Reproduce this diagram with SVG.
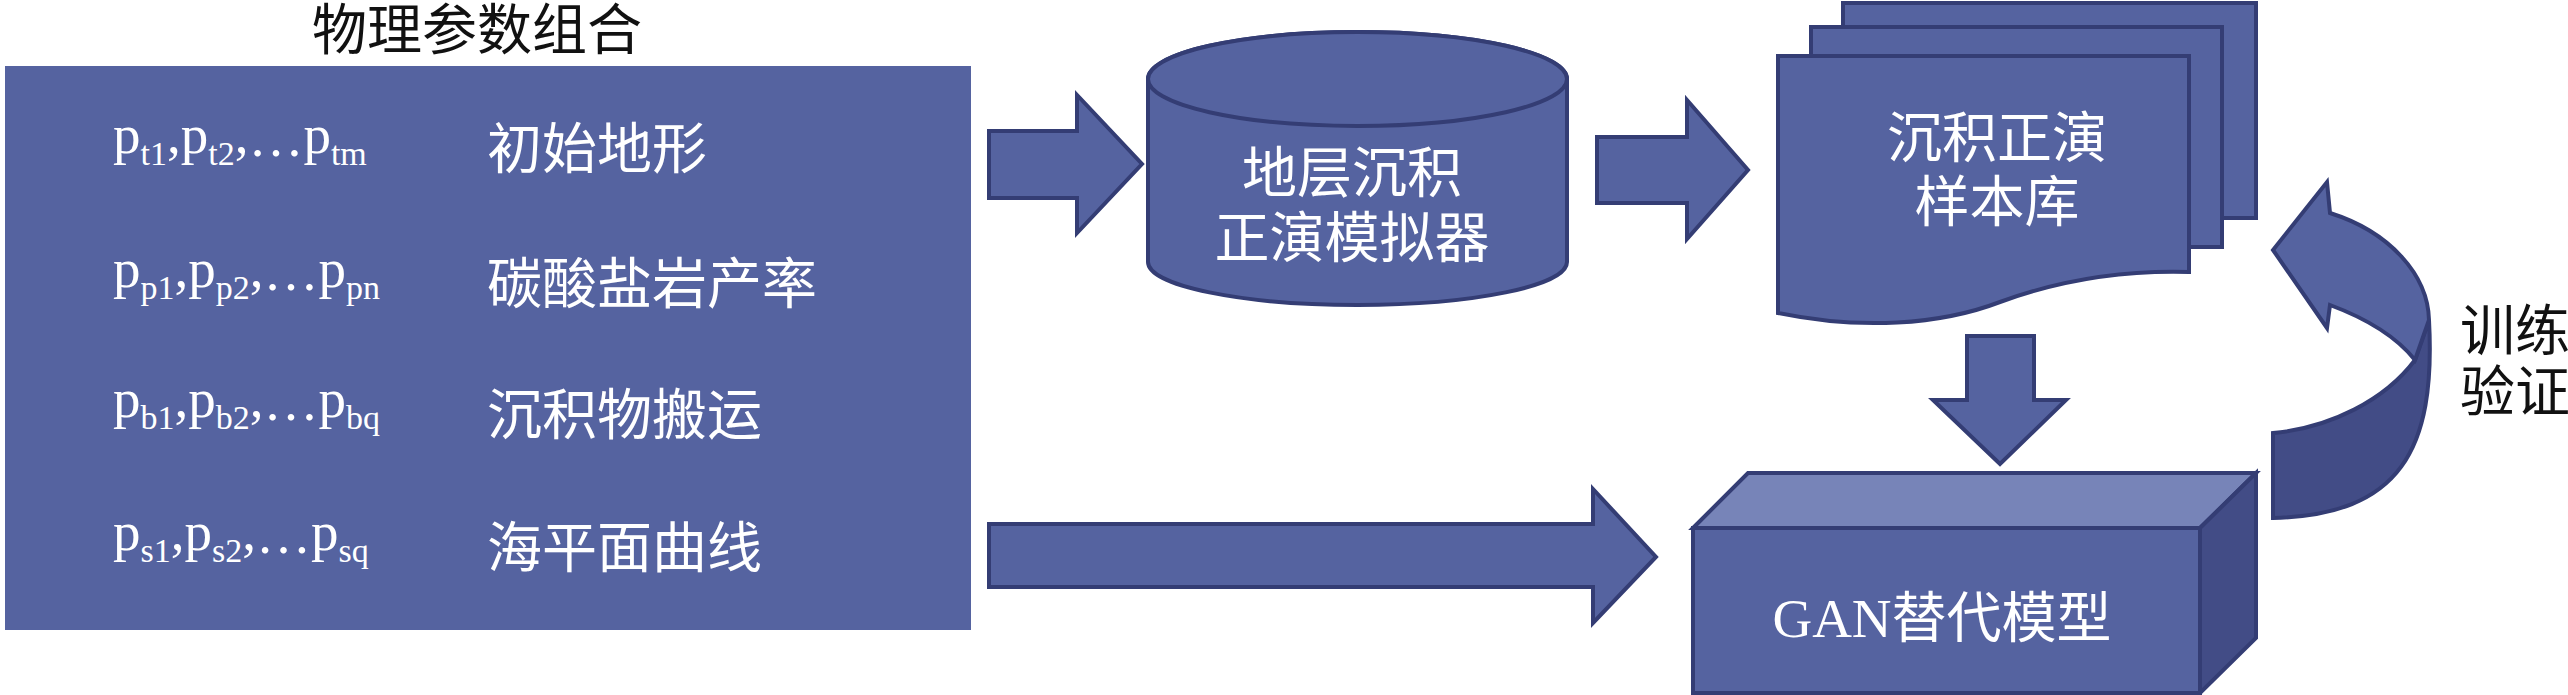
<svg xmlns="http://www.w3.org/2000/svg" width="2568" height="695" viewBox="0 0 2568 695">
  <style>
    .fill { fill: #5563a0; }
    .shape { fill: #5563a0; stroke: #343d74; stroke-width: 4; stroke-linejoin: miter; }
    .dark { fill: #424c86; stroke: #343d74; stroke-width: 4; stroke-linejoin: miter; }
    .light { fill: #7784b8; stroke: #343d74; stroke-width: 4; stroke-linejoin: miter; }
    .cjk { font-family: "Liberation Serif", "Noto Sans CJK SC", serif; font-size: 55px; }
    .wt { fill: #ffffff; }
    .bk { fill: #111111; }
    .pm { font-family: "Liberation Serif", serif; font-size: 55px; fill: #ffffff; }
    .sub { font-size: 34px; }
    .mid { text-anchor: middle; }
  </style>
  <rect width="2568" height="695" fill="#ffffff"/>

  <g id="params">
    <text class="cjk bk mid" x="477" y="49">物理参数组合</text>
    <rect class="fill" x="5" y="66" width="966" height="564"/>
    <text class="pm" x="113" y="153">p<tspan class="sub" dy="12">t1</tspan><tspan dy="-12">,p</tspan><tspan class="sub" dy="12">t2</tspan><tspan dy="-12">,</tspan><tspan dy="3">…</tspan><tspan dy="-3">p</tspan><tspan class="sub" dy="12">tm</tspan></text>
    <text class="pm" x="113" y="287">p<tspan class="sub" dy="12">p1</tspan><tspan dy="-12">,p</tspan><tspan class="sub" dy="12">p2</tspan><tspan dy="-12">,</tspan><tspan dy="3">…</tspan><tspan dy="-3">p</tspan><tspan class="sub" dy="12">pn</tspan></text>
    <text class="pm" x="113" y="417">p<tspan class="sub" dy="12">b1</tspan><tspan dy="-12">,p</tspan><tspan class="sub" dy="12">b2</tspan><tspan dy="-12">,</tspan><tspan dy="3">…</tspan><tspan dy="-3">p</tspan><tspan class="sub" dy="12">bq</tspan></text>
    <text class="pm" x="113" y="550">p<tspan class="sub" dy="12">s1</tspan><tspan dy="-12">,p</tspan><tspan class="sub" dy="12">s2</tspan><tspan dy="-12">,</tspan><tspan dy="3">…</tspan><tspan dy="-3">p</tspan><tspan class="sub" dy="12">sq</tspan></text>
    <text class="cjk wt" x="487" y="168">初始地形</text>
    <text class="cjk wt" x="487" y="303">碳酸盐岩产率</text>
    <text class="cjk wt" x="487" y="434">沉积物搬运</text>
    <text class="cjk wt" x="487" y="567">海平面曲线</text>
  </g>

  <g id="simulator">
    <path class="shape" d="M1148,79 V262 A209.5,43 0 0 0 1567,262 V79 A209.5,47 0 0 0 1148,79 Z"/>
    <ellipse class="shape" cx="1357.5" cy="79" rx="209.5" ry="47"/>
    <text class="cjk wt mid" x="1352" y="192">地层沉积</text>
    <text class="cjk wt mid" x="1352" y="257">正演模拟器</text>
  </g>

  <g id="samples">
    <rect class="shape" x="1843" y="3" width="413" height="215"/>
    <rect class="shape" x="1811" y="27" width="411" height="220"/>
    <path class="shape" d="M1778,56 H2189 V272 C2120,270 2060,280 2000,302 C1940,325 1860,330 1778,313 Z"/>
    <text class="cjk wt mid" x="1997" y="157">沉积正演</text>
    <text class="cjk wt mid" x="1997" y="221">样本库</text>
  </g>

  <g id="gan">
    <polygon class="light" points="1693,528 1748,473 2256,473 2200,528"/>
    <polygon class="dark" points="2200,528 2256,473 2256,638 2200,693"/>
    <rect class="shape" x="1693" y="528" width="507" height="165"/>
    <text class="wt mid" x="1942" y="637"><tspan class="pm" font-size="57">GAN</tspan><tspan class="cjk">替代模型</tspan></text>
  </g>

  <g id="connectors">
    <polygon class="shape" points="989,131 1077,131 1077,95 1142,164 1077,233 1077,198 989,198"/>
    <polygon class="shape" points="1597,137 1687,137 1687,100 1748,170 1687,239 1687,203 1597,203"/>
    <polygon class="shape" points="989,524 1593,524 1593,489 1656,557 1593,623 1593,587 989,587"/>
    <polygon class="shape" points="1967,336 2034,336 2034,400 2066,400 2000,464 1933,400 1967,400"/>
    <g id="train-loop">
      <path class="dark" d="M2415,360 L2429,320 C2436,450 2400,515 2273,518 L2273,433 C2330,428 2385,400 2415,360 Z"/>
      <path class="shape" d="M2429,320 C2428,275 2390,232 2330,213 L2327,182 L2273,250 L2327,328 L2330,305 C2365,318 2395,335 2415,360 Z"/>
    </g>
  </g>

  <g id="train-label">
    <text class="cjk bk" x="2460" y="350" font-size="54">训练</text>
    <text class="cjk bk" x="2460" y="411" font-size="54">验证</text>
  </g>
</svg>
